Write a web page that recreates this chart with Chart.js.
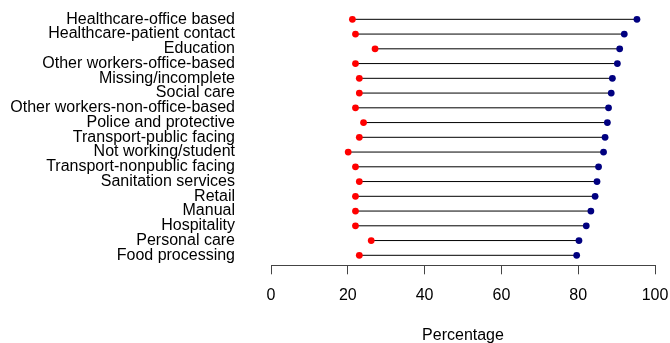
<!DOCTYPE html>
<html><head><meta charset="utf-8">
<script src="https://cdn.jsdelivr.net/npm/chart.js@4/dist/chart.umd.min.js"></script>
<style>html,body{margin:0;padding:0;background:#fff;} #wrap{width:670px;height:343px;}</style>
</head><body><div id="wrap"><canvas id="c" width="670" height="343"></canvas></div>
<script>
const categories = [
  "Healthcare-office based", "Healthcare-patient contact", "Education",
  "Other workers-office-based", "Missing/incomplete", "Social care",
  "Other workers-non-office-based", "Police and protective", "Transport-public facing",
  "Not working/student", "Transport-nonpublic facing", "Sanitation services",
  "Retail", "Manual", "Hospitality", "Personal care", "Food processing"
];
const lowerValues = [21.2, 22.0, 27.1, 22.0, 23.0, 23.0, 22.0, 24.1, 23.0, 20.1, 22.0, 23.0, 22.0, 22.0, 22.0, 26.1, 23.0];
const upperValues = [95.3, 92.0, 90.8, 90.2, 88.9, 88.6, 87.9, 87.6, 87.0, 86.6, 85.3, 84.9, 84.4, 83.3, 82.1, 80.2, 79.6];
const xTicks = [0, 20, 40, 60, 80, 100];
const xTitle = "Percentage";

const segData = [];
categories.forEach((c, i) => {
  segData.push({x: lowerValues[i], y: i});
  segData.push({x: upperValues[i], y: i});
  segData.push({x: null, y: null});
});
const font = {family: "'Liberation Sans', Arial, sans-serif", size: 16};

new Chart(document.getElementById('c'), {
  type: 'scatter',
  data: {
    datasets: [
      {data: lowerValues.map((v, i) => ({x: v, y: i})), pointRadius: 3.4, pointBorderWidth: 0,
       backgroundColor: '#FF0000', borderColor: '#FF0000'},
      {data: upperValues.map((v, i) => ({x: v, y: i})), pointRadius: 3.4, pointBorderWidth: 0,
       backgroundColor: '#000080', borderColor: '#000080'},
      {data: segData, showLine: true, spanGaps: false, pointRadius: 0, borderColor: '#000000', borderWidth: 1}
    ]
  },
  options: {
    responsive: false, animation: false,
    layout: {padding: {top: 9, right: 15, left: 0, bottom: 0}},
    plugins: {legend: {display: false}, tooltip: {enabled: false}},
    scales: {
      x: {
        type: 'linear', min: 0, max: 100,
        afterBuildTicks: s => { s.ticks = xTicks.map(v => ({value: v})); },
        afterFit: s => { s.height = 77.7; s.paddingRight = 14; s.paddingLeft = 5; },
        ticks: {font: font, color: '#000', padding: 12, maxRotation: 0},
        grid: {drawOnChartArea: false, drawTicks: true, tickLength: 9, color: '#444', lineWidth: 1},
        border: {display: true, color: '#444', width: 1},
        title: {display: true, text: xTitle, font: Object.assign({lineHeight: 1}, font), color: '#000', padding: {top: 0, bottom: -1}}
      },
      y: {
        type: 'linear', reverse: true, min: -0.70, max: 16.678,
        afterBuildTicks: s => { s.ticks = categories.map((c, i) => ({value: i})); },
        afterFit: s => { s.width = 271; s.paddingTop = 8; s.paddingBottom = 8; },
        ticks: {font: Object.assign({lineHeight: 1}, font), color: '#000', padding: 0, autoSkip: false,
                callback: v => categories[v]},
        grid: {display: true, drawOnChartArea: false, drawTicks: true, tickLength: 36, color: 'rgba(0,0,0,0)'},
        border: {display: false}
      }
    }
  }
});
</script></body></html>
